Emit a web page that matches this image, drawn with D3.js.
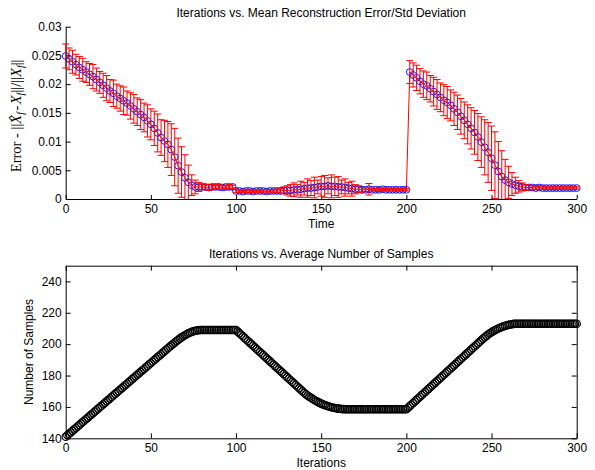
<!doctype html>
<html lang="en">
<head>
<meta charset="utf-8" />
<title>Iterations vs. Error and Samples</title>
<script src="https://d3js.org/d3.v7.min.js"></script>
<style>
  body { margin: 0; background: #fff; }
  svg text { font-family: "Liberation Sans", Arial, sans-serif; font-size: 12px; fill: #000; }
  .axis path, .axis line { stroke: #000; }
</style>
</head>
<body>
<svg id="chart" width="595" height="470"></svg>
<script>
// ---- data ----
// top plot: one point every 2 iterations (0..300)
const errStep = 2;
const meanErr = [
  .0249,.0244,.0239,.0234,.0229,.0225,.0221,.0217,.0213,.0208,
  .0203,.0198,.0193,.0188,.0184,.0179,.0175,.0171,.0167,.0162,
  .0157,.0152,.0147,.0142,.0136,.0130,.0123,.0115,.0107,.0101,
  .0095,.0086,.0073,.0058,.0047,.0037,.0029,.0024,.0021,.0021,
  .0021,.0021,.0020,.0021,.0021,.0021,.0020,.0021,.0021,.0021,
  .0014,
  .0014,.0013,.0014,.0014,.0013,.0014,.0014,.0014,.0013,.0014,.0014,.0014,.0014,.0015,.0015,
  .0015,.0016,.0016,.0017,.0018,.0019,.0019,.0020,.0021,.0022,
  .0022,.0023,.0022,.0022,.0021,.0021,.0020,.0019,.0018,.0017,
  .0017,.0016,.0016,.0017,.0016,.0016,.0016,.0017,.0016,.0016,.0016,.0016,.0016,.0016,.0016,
  .0221,.0216,.0211,.0205,.0200,.0197,.0192,.0187,.0182,.0177,
  .0172,.0168,.0163,.0157,.0151,.0144,.0137,.0130,.0123,.0116,
  .0108,.0099,.0090,.0081,.0071,.0059,.0048,.0039,.0033,.0029,
  .0026,.0024,.0022,.0021,.0020,
  .0020,.0020,.0019,.0020,.0019,.0019,.0019,.0019,.0019,.0019,.0019,.0019,.0019,.0019,.0019
];
const stdErr = [
  .0021,.0019,.0020,.0018,.0019,.0020,.0018,.0019,.0021,.0020,
  .0019,.0021,.0022,.0020,.0023,.0021,.0022,.0024,.0021,.0023,
  .0025,.0024,.0026,.0025,.0028,.0027,.0030,.0033,.0031,.0036,
  .0040,.0045,.0050,.0048,.0044,.0040,.0030,.0018,.0012,.0008,
  .0005,.0004,.0005,.0004,.0003,.0004,.0003,.0003,.0004,.0003,
  .0003,
  .0002,.0002,.0002,.0003,.0002,.0002,.0002,.0002,.0003,.0002,.0002,.0003,.0004,.0006,.0008,
  .0010,.0012,.0009,.0014,.0011,.0016,.0013,.0018,.0012,.0017,
  .0019,.0014,.0020,.0016,.0018,.0012,.0015,.0010,.0013,.0008,
  .0006,.0004,.0003,.0010,.0002,.0002,.0003,.0002,.0002,.0002,.0002,.0002,.0002,.0002,.0002,
  .0020,.0021,.0022,.0022,.0023,.0024,.0023,.0025,.0026,.0025,
  .0027,.0028,.0027,.0029,.0030,.0031,.0032,.0034,.0036,.0038,
  .0041,.0044,.0048,.0052,.0056,.0058,.0052,.0045,.0036,.0028,
  .0020,.0014,.0010,.0007,.0005,
  .0004,.0003,.0003,.0003,.0002,.0002,.0002,.0002,.0002,.0002,.0002,.0002,.0002,.0002,.0002
];
// bottom plot: one point every iteration (0..300)
const samples = [
  141.0,141.9,142.9,143.8,144.8,145.7,146.6,147.6,148.5,149.5,
  150.4,151.3,152.3,153.2,154.2,155.1,156.0,157.0,157.9,158.9,
  159.8,160.7,161.7,162.6,163.6,164.5,165.4,166.4,167.3,168.3,
  169.2,170.1,171.1,172.0,173.0,173.9,174.8,175.8,176.7,177.7,
  178.6,179.5,180.5,181.4,182.4,183.3,184.2,185.2,186.1,187.1,
  188.0,188.9,189.9,190.8,191.8,192.7,193.6,194.6,195.5,196.5,
  197.4,198.3,199.2,200.1,201.0,201.9,202.7,203.5,204.3,205.0,
  205.7,206.3,206.9,207.4,207.8,208.2,208.5,208.7,208.9,209.0,
  209.0,209.0,209.0,209.0,209.0,209.0,209.0,209.0,209.0,209.0,
  209.0,209.0,209.0,209.0,209.0,209.0,209.0,209.0,209.0,209.0,
  209.0,208.0,207.0,206.0,205.0,204.0,203.0,202.0,201.0,200.0,
  199.0,198.0,197.0,196.0,195.0,194.0,193.0,192.0,191.0,190.0,
  189.0,188.0,187.0,186.0,185.0,184.0,183.0,182.0,181.0,180.0,
  179.0,178.0,177.0,176.0,175.0,174.0,173.0,172.0,171.0,170.0,
  169.0,168.1,167.3,166.5,165.8,165.1,164.4,163.8,163.2,162.6,
  162.1,161.6,161.2,160.8,160.4,160.1,159.8,159.5,159.3,159.1,
  158.9,158.8,158.7,158.6,158.5,158.5,158.5,158.5,158.5,158.5,
  158.5,158.5,158.5,158.5,158.5,158.5,158.5,158.5,158.5,158.5,
  158.5,158.5,158.5,158.5,158.5,158.5,158.5,158.5,158.5,158.5,
  158.5,158.5,158.5,158.5,158.5,158.5,158.5,158.5,158.5,158.5,
  158.5,159.5,160.5,161.5,162.5,163.5,164.5,165.5,166.5,167.5,
  168.5,169.5,170.5,171.5,172.5,173.5,174.5,175.5,176.5,177.5,
  178.5,179.5,180.5,181.5,182.5,183.5,184.5,185.5,186.5,187.5,
  188.5,189.5,190.5,191.5,192.5,193.5,194.5,195.5,196.5,197.5,
  198.5,199.5,200.5,201.5,202.5,203.5,204.4,205.3,206.1,206.9,
  207.6,208.3,208.9,209.5,210.0,210.5,210.9,211.3,211.7,212.0,
  212.3,212.5,212.7,212.9,213.0,213.0,213.0,213.0,213.0,213.0,
  213.0,213.0,213.0,213.0,213.0,213.0,213.0,213.0,213.0,213.0,
  213.0,213.0,213.0,213.0,213.0,213.0,213.0,213.0,213.0,213.0,
  213.0,213.0,213.0,213.0,213.0,213.0,213.0,213.0,213.0,213.0,
  213.0
];
const xTicks = [0, 50, 100, 150, 200, 250, 300];
const errTicks = [0, 0.005, 0.01, 0.015, 0.02, 0.025, 0.03];
const sampleTicks = [140, 160, 180, 200, 220, 240];

const topTitle = "Iterations vs. Mean Reconstruction Error/Std Deviation";
const botTitle = "Iterations vs. Average Number of Samples";

// ---- layout ----
const svg = d3.select("#chart");
const left = 65.7, right = 576.7;
const top1 = 26.7, bot1 = 199;
const top2 = 265.7, bot2 = 438.3;

const x = d3.scaleLinear().domain([0, 300]).range([left, right]);
const yErr = d3.scaleLinear().domain([0, 0.03]).range([bot1, top1]);
const ySam = d3.scaleLinear().domain([140, 250]).range([bot2, top2]);

const errData = meanErr.map((m, i) => ({ t: i * errStep, m: m, s: stdErr[i] }));
const samData = samples.map((v, i) => ({ t: i, v: v }));

// ---- top plot ----
svg.append("clipPath").attr("id", "clipTop")
  .append("rect").attr("x", left - 6).attr("y", 0).attr("width", right - left + 12).attr("height", bot1);

const g1 = svg.append("g");

g1.append("g").attr("class", "axis")
  .attr("transform", `translate(0,${bot1})`)
  .call(d3.axisBottom(x).tickValues(xTicks).tickSizeInner(-4).tickSizeOuter(0).tickPadding(5))
  .call(a => a.selectAll("text").attr("font-size", null));

g1.append("g").attr("class", "axis")
  .attr("transform", `translate(${left},0)`)
  .call(d3.axisLeft(yErr).tickValues(errTicks).tickFormat(d => d === 0 ? "0" : String(+d.toFixed(3)))
    .tickSizeInner(-5).tickSizeOuter(0).tickPadding(4))
  .call(a => a.selectAll("text").attr("font-size", null));

const marks1 = g1.append("g").attr("clip-path", "url(#clipTop)");

marks1.selectAll("circle").data(errData).join("circle")
  .attr("cx", d => x(d.t)).attr("cy", d => yErr(d.m)).attr("r", 3.4)
  .attr("fill", "none").attr("stroke", "#0000ff").attr("stroke-width", 0.9);

const bars = marks1.append("g").attr("stroke", "#ff0000").attr("stroke-width", 1).attr("fill", "none");
bars.selectAll("path").data(errData).join("path")
  .attr("d", d => {
    const cx = x(d.t), y0 = yErr(d.m - d.s), y1 = yErr(d.m + d.s), w = 3.5;
    return `M${cx},${y0}V${y1}M${cx - w},${y0}H${cx + w}M${cx - w},${y1}H${cx + w}`;
  });

marks1.append("path").datum(errData)
  .attr("fill", "none").attr("stroke", "#ff0000").attr("stroke-width", 1)
  .attr("d", d3.line().x(d => x(d.t)).y(d => yErr(d.m)));

g1.append("text").attr("x", (left + right) / 2).attr("y", 17)
  .attr("text-anchor", "middle").text(topTitle);
g1.append("text").attr("x", (left + right) / 2).attr("y", 228)
  .attr("text-anchor", "middle").text("Time");

// y label in TeX-like serif
const yl = g1.append("text")
  .attr("transform", `translate(21,${(top1 + bot1) / 2 + 3}) rotate(-90)`)
  .attr("text-anchor", "middle")
  .style("font-family", "'Liberation Serif', 'DejaVu Serif', serif")
  .style("font-size", "14.5px");
const sub = (t) => yl.append("tspan").style("font-style", "italic").style("font-size", "10px").attr("dy", 3).text(t);
yl.append("tspan").text("Error - ||");
yl.append("tspan").style("font-style", "italic").text("X\u0302");
sub("f");
yl.append("tspan").attr("dy", -3).attr("dx", 1.5).text("-");
yl.append("tspan").attr("dx", 1.5).style("font-style", "italic").text("X");
sub("f");
yl.append("tspan").attr("dy", -3).text("||/||");
yl.append("tspan").style("font-style", "italic").text("X");
sub("f");
yl.append("tspan").attr("dy", -3).text("||");

// ---- bottom plot ----
const g2 = svg.append("g");

g2.append("g").attr("class", "axis")
  .attr("transform", `translate(0,${bot2})`)
  .call(d3.axisBottom(x).tickValues(xTicks).tickSizeInner(-5).tickSizeOuter(0).tickPadding(5))
  .call(a => a.selectAll("text").attr("font-size", null));
g2.append("g").attr("class", "axis")
  .attr("transform", `translate(0,${top2})`)
  .call(d3.axisTop(x).tickValues(xTicks).tickFormat("").tickSizeInner(-5).tickSizeOuter(0));
g2.append("g").attr("class", "axis")
  .attr("transform", `translate(${left},0)`)
  .call(d3.axisLeft(ySam).tickValues(sampleTicks).tickSizeInner(-5).tickSizeOuter(0).tickPadding(4))
  .call(a => a.selectAll("text").attr("font-size", null));
g2.append("g").attr("class", "axis")
  .attr("transform", `translate(${right},0)`)
  .call(d3.axisRight(ySam).tickValues(sampleTicks).tickFormat("").tickSizeInner(-5).tickSizeOuter(0));

g2.append("g").selectAll("circle").data(samData).join("circle")
  .attr("cx", d => x(d.t)).attr("cy", d => ySam(d.v)).attr("r", 3.7)
  .attr("fill", "none").attr("stroke", "#000").attr("stroke-width", 1.2);

g2.append("text").attr("x", (left + right) / 2).attr("y", 258)
  .attr("text-anchor", "middle").text(botTitle);
g2.append("text").attr("x", (left + right) / 2).attr("y", 467)
  .attr("text-anchor", "middle").text("Iterations");
g2.append("text")
  .attr("transform", `translate(33,${(top2 + bot2) / 2}) rotate(-90)`)
  .attr("text-anchor", "middle").text("Number of Samples");
</script>
</body>
</html>
